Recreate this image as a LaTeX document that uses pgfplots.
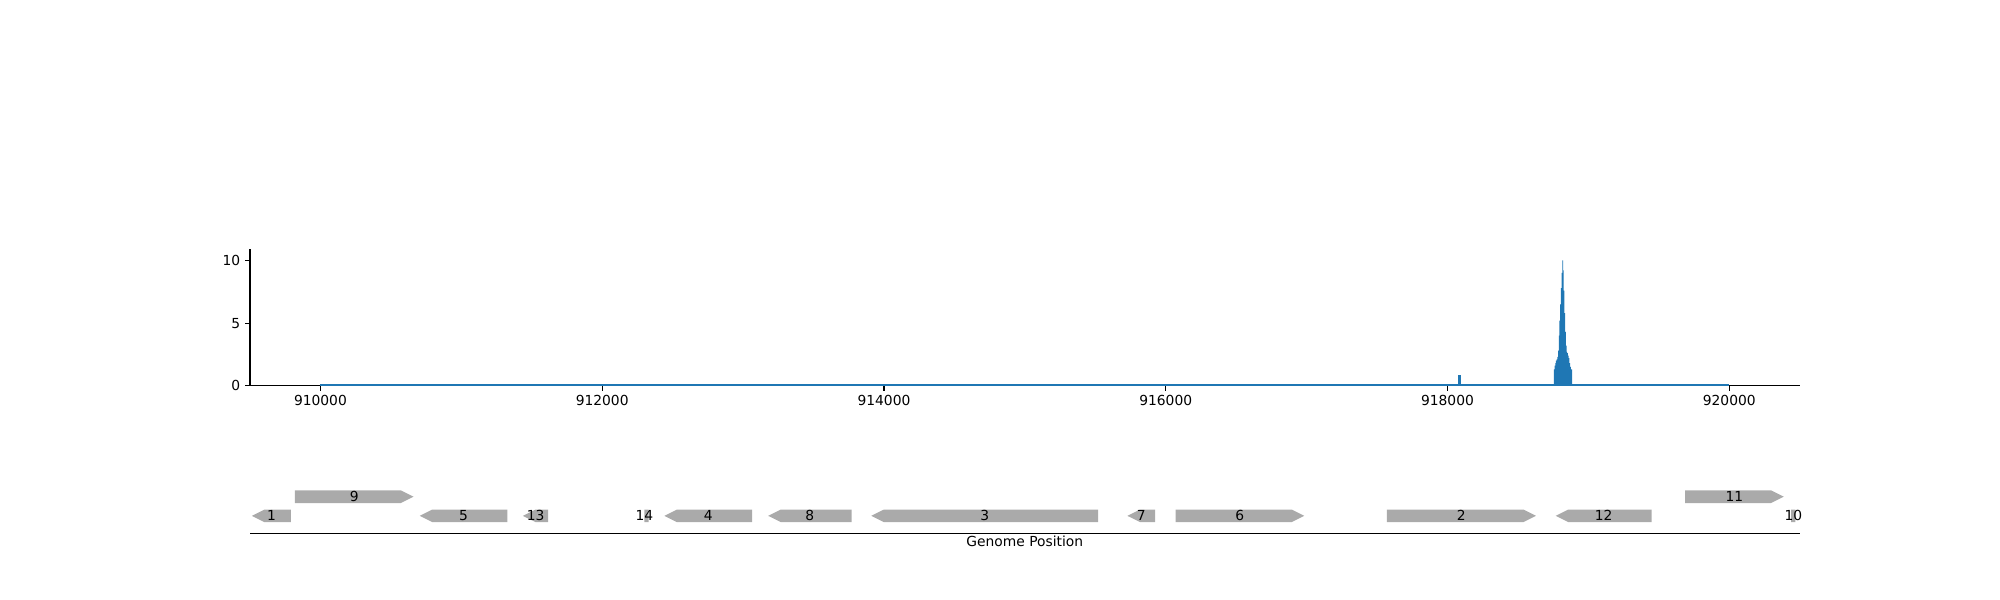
\documentclass[border=0pt]{standalone}
\usepackage{pgfplots}
\pgfplotsset{compat=1.18}
\usepackage{fontspec}
\setmainfont{DejaVu Sans}
\definecolor{mblue}{HTML}{1F77B4}
\definecolor{ggray}{HTML}{AAAAAA}
\begin{document}
\begin{tikzpicture}
\path[use as bounding box] (0,0) rectangle (20in,6in);
\begin{axis}[at={(2.5in,2.143in)},anchor=south west,scale only axis,width=15.497in,height=1.365in,
 xmin=909500,xmax=920500,ymin=0,ymax=10.9,
 axis x line*=bottom,axis y line*=left,
 xtick={910000,912000,914000,916000,918000,920000},ytick={0,5,10},
 scaled x ticks=false,xticklabel style={/pgf/number format/.cd,fixed,1000 sep={}},
 /pgf/number format/assume math mode=true,
 tick align=outside,tick pos=left,major tick length=3.5pt,
 axis line style={line width=0.8pt},tick style={line width=0.8pt,black}]
\addplot[mblue,line width=1.2pt] coordinates {(910000,0.03)(920000,0.03)};
\addplot[mblue,fill=mblue,draw=mblue,line width=0.6pt] coordinates {
(918080,0)(918080,0.8)(918095,0.8)(918095,0)} --cycle;
\addplot[mblue,fill=mblue,draw=none,const plot] coordinates {
(918755,0)(918755,1.3)(918760,1.6)(918765,1.8)(918770,2.0)(918775,2.1)(918780,2.3)(918785,2.8)(918790,4.0)(918795,5.2)(918800,6.5)(918805,7.8)(918810,9.0)(918815,10.0)(918820,9.2)(918825,7.6)(918830,5.8)(918835,4.3)(918840,3.2)(918845,2.7)(918850,2.6)(918855,2.4)(918860,2.2)(918865,1.8)(918870,1.5)(918875,1.3)(918880,1.3)(918885,0)} --cycle;
\end{axis}
\begin{axis}[at={(2.5in,0.663in)},anchor=south west,scale only axis,width=15.497in,height=0.485in,
 xmin=909500,xmax=920500,ymin=-0.933,ymax=1.6,
 axis x line*=bottom,axis y line=none,xtick=\empty,
 axis line style={line width=0.8pt},
 xlabel={Genome Position},xlabel style={yshift=2pt}]
\pgfplotsset{gene/.style={fill=ggray,draw=none}}
\addplot[gene] coordinates {(909791,-0.33)(909603,-0.33)(909513,0)(909603,0.33)(909791,0.33)} --cycle;
\addplot[gene] coordinates {(909818,0.67)(910571,0.67)(910661,1)(910571,1.33)(909818,1.33)} --cycle;
\addplot[gene] coordinates {(911326,-0.33)(910795,-0.33)(910705,0)(910795,0.33)(911326,0.33)} --cycle;
\addplot[gene] coordinates {(911617,-0.33)(911527,-0.33)(911437,0)(911527,0.33)(911617,0.33)} --cycle;
\addplot[gene] coordinates {(912330,-0.33)(912300,-0.33)(912300,0)(912300,0.33)(912330,0.33)} --cycle;
\addplot[gene] coordinates {(913065,-0.33)(912531,-0.33)(912441,0)(912531,0.33)(913065,0.33)} --cycle;
\addplot[gene] coordinates {(913771,-0.33)(913268,-0.33)(913178,0)(913268,0.33)(913771,0.33)} --cycle;
\addplot[gene] coordinates {(915520,-0.33)(914000,-0.33)(913910,0)(914000,0.33)(915520,0.33)} --cycle;
\addplot[gene] coordinates {(915924,-0.33)(915818,-0.33)(915728,0)(915818,0.33)(915924,0.33)} --cycle;
\addplot[gene] coordinates {(916070,-0.33)(916893,-0.33)(916983,0)(916893,0.33)(916070,0.33)} --cycle;
\addplot[gene] coordinates {(917569,-0.33)(918538,-0.33)(918628,0)(918538,0.33)(917569,0.33)} --cycle;
\addplot[gene] coordinates {(919449,-0.33)(918858,-0.33)(918768,0)(918858,0.33)(919449,0.33)} --cycle;
\addplot[gene] coordinates {(919687,0.67)(920297,0.67)(920387,1)(920297,1.33)(919687,1.33)} --cycle;
\addplot[gene] coordinates {(920440,-0.33)(920470,-0.33)(920470,0)(920470,0.33)(920440,0.33)} --cycle;
\addplot[only marks,mark=none,nodes near coords,point meta=explicit symbolic,
 nodes near coords style={anchor=center,font=\normalsize,text=black}] table[meta=l] {
x y l
909652 0 1
910240 1 9
911015 0 5
911527 0 13
912300 0 14
912753 0 4
913474 0 8
914715 0 3
915826 0 7
916526 0 6
918098 0 2
919108 0 12
920037 1 11
920455 0 10
};
\end{axis}
\end{tikzpicture}
\end{document}
